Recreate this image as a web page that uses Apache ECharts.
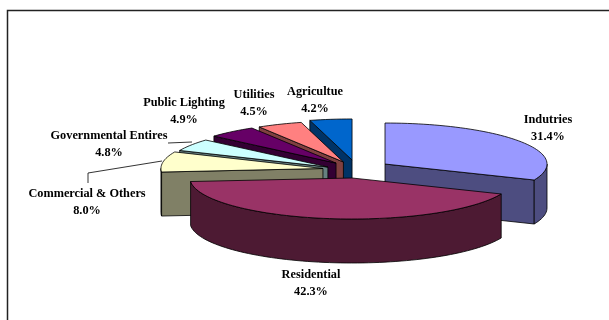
<!DOCTYPE html>
<html><head><meta charset="utf-8">
<style>html,body{margin:0;padding:0;background:#fff}#c{width:609px;height:320px}</style>
<script src="https://cdn.jsdelivr.net/npm/echarts@6/dist/echarts.min.js"></script>
</head><body><div id="c"></div>
<script>
var categories = ['Indutries','Residential','Commercial & Others','Governmental Entires','Public Lighting','Utilities','Agricultue'];
var shares = [31.4,42.3,8.0,4.8,4.9,4.5,4.2];
var topColors = ['#9999FF','#993366','#FFFFCC','#CCFFFF','#660066','#FF8080','#0066CC'];
var sideColors = ['#4D4D80','#4D1A33','#808066','#668080','#330033','#804040','#003366'];
var explodeX = [34.8,25.6,33.5,33.3,31,32,30];
var explodeY = [32,38,0,11,28,28,34];
var labelAnchors = [[548,112],[311,267],[87,186],[109,128],[184,95],[254,87],[315,84]];
var leaders = [null,null,[[88,183],[88,173],[162,161]],[[168,143],[192,142]],null,null,null];
var BASE = {x:356,y:168.5,rx:162,ry:41,depth:44};
var total = shares.reduce(function(a,b){return a+b;},0);
var drawOrder = [6,5,4,3,2,0,1];
var rows = drawOrder.map(function(i){
  var before = shares.slice(0,i).reduce(function(a,b){return a+b;},0);
  return [i, before/total*360, (before+shares[i])/total*360];
});
function rad(d){return d*Math.PI/180;}
function renderSlice(params, api){
  var i=api.value(0), a0=api.value(1), a1=api.value(2);
  var mid=rad((a0+a1)/2);
  var cx=BASE.x+explodeX[i]*Math.sin(mid), cy=BASE.y-explodeY[i]*Math.cos(mid)*BASE.ry/BASE.rx;
  function rim(a,dz){return [cx+BASE.rx*Math.sin(rad(a)), cy-BASE.ry*Math.cos(rad(a))+(dz||0)];}
  function arc(s,e,dz){var p=[],n=Math.max(2,Math.ceil(Math.abs(e-s)/2));for(var k=0;k<=n;k++)p.push(rim(s+(e-s)*k/n,dz));return p;}
  var lineStyle={stroke:'#000',lineWidth:0.8,lineJoin:'round'};
  var kids=[];
  function poly(pts,fill){kids.push({type:'polygon',shape:{points:pts},style:Object.assign({fill:fill},lineStyle),silent:true});}
  var D=BASE.depth, c=[cx,cy], cb=[cx,cy+D];
  if(a0>180 && a0<360) poly([c,rim(a0),rim(a0,D),cb],sideColors[i]);
  if(a1>0 && a1<180) poly([c,rim(a1),rim(a1,D),cb],sideColors[i]);
  var s=Math.max(a0,90), e=Math.min(a1,270);
  if(e>s) poly(arc(s,e,0).concat(arc(e,s,D)),sideColors[i]);
  poly([c].concat(arc(a0,a1,0)),topColors[i]);
  return {type:'group',children:kids};
}
function renderNotes(params, api){
  var i=api.value(0), kids=[], pos=labelAnchors[i];
  if(leaders[i]) kids.push({type:'polyline',shape:{points:leaders[i]},style:{fill:null,stroke:'#000',lineWidth:0.8},silent:true});
  kids.push({type:'text',x:pos[0],y:pos[1],style:{text:categories[i]+'\n'+shares[i].toFixed(1)+'%',fill:'#000',
    font:'bold 12.3px "Liberation Serif"',lineHeight:16.5,align:'center',verticalAlign:'top'},silent:true});
  return {type:'group',children:kids};
}
var chart=echarts.init(document.getElementById('c'),null,{renderer:'canvas'});
chart.setOption({
  animation:false,backgroundColor:'#fff',
  graphic:[{type:'rect',shape:{x:7.5,y:10.5,width:700,height:400},style:{fill:null,stroke:'#222',lineWidth:1.5},silent:true}],
  series:[
    {type:'custom',coordinateSystem:'none',data:rows,renderItem:renderSlice,silent:true,z:2},
    {type:'custom',coordinateSystem:'none',data:categories.map(function(n,i){return [i];}),renderItem:renderNotes,silent:true,z:3}
  ]
});
</script></body></html>
